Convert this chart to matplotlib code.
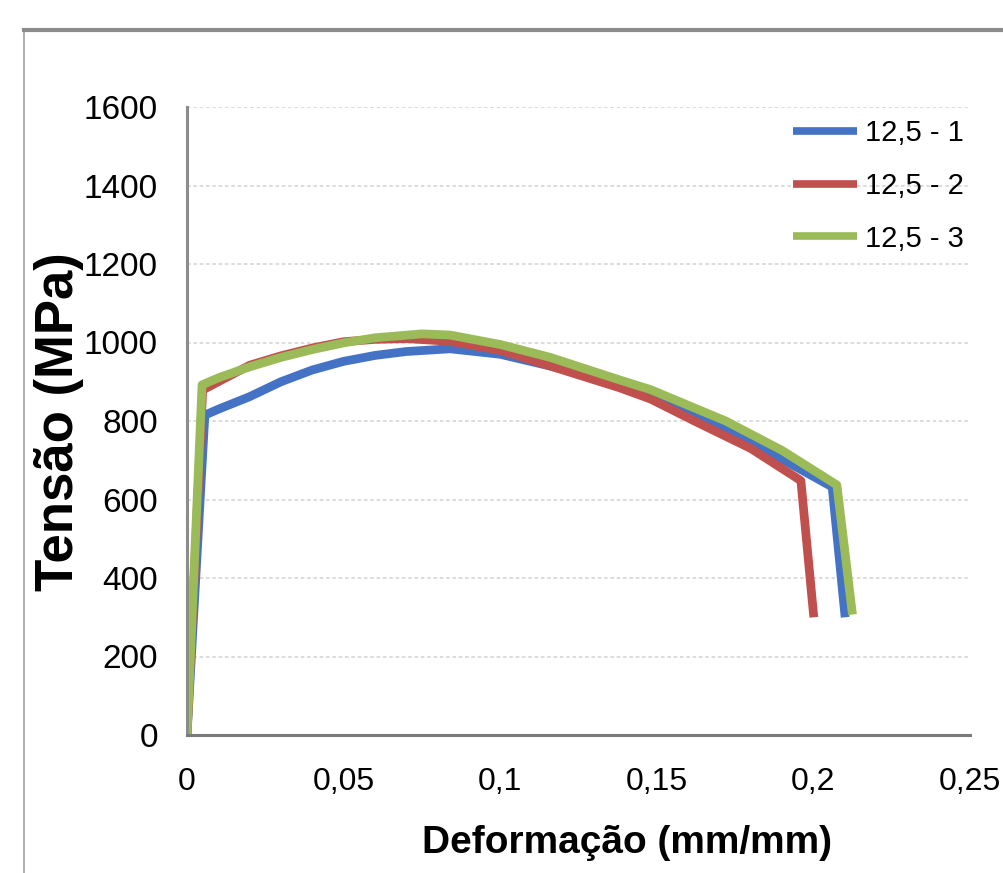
import matplotlib
matplotlib.use("Agg")
import matplotlib.pyplot as plt
from matplotlib.lines import Line2D

# strain (mm/mm) and stress (MPa)
x_1 = [0, 0.0057, 0.01, 0.02, 0.03, 0.04, 0.05, 0.06, 0.07, 0.084, 0.1, 0.116, 0.13, 0.148, 0.166, 0.185, 0.206, 0.210]
y_1 = [0, 815, 830, 862, 900, 930, 952, 967, 977, 984, 970, 940, 912, 871, 805, 725, 632, 311]

x_2 = [0, 0.005, 0.01, 0.02, 0.03, 0.04, 0.05, 0.06, 0.07, 0.084, 0.1, 0.116, 0.138, 0.148, 0.162, 0.18, 0.196, 0.200]
y_2 = [0, 879, 900, 942, 966, 986, 1002, 1008, 1010, 1003, 980, 940, 885, 856, 800, 730, 648, 311]

x_3 = [0, 0.0048, 0.01, 0.02, 0.03, 0.04, 0.05, 0.06, 0.075, 0.084, 0.1, 0.116, 0.138, 0.148, 0.172, 0.19, 0.2075, 0.2123]
y_3 = [0, 892, 910, 938, 962, 982, 999, 1012, 1022, 1019, 995, 962, 905, 880, 800, 725, 637, 318]

series_names = ["12,5 - 1", "12,5 - 2", "12,5 - 3"]
series_colors = ["#4472C4", "#C0504D", "#9BBB59"]

x_ticks = [0, 0.05, 0.1, 0.15, 0.2, 0.25]
x_tick_labels = ["0", "0,05", "0,1", "0,15", "0,2", "0,25"]
y_ticks = [0, 200, 400, 600, 800, 1000, 1200, 1400, 1600]

font = ["Liberation Sans", "DejaVu Sans"]

fig = plt.figure(figsize=(10.04, 8.73), dpi=100)
ax = fig.add_axes([187 / 1004, 1 - 735 / 873, 783 / 1004, 628 / 873])

for xs, ys, name, col in zip([x_1, x_2, x_3], [y_1, y_2, y_3], series_names, series_colors):
    ax.plot(xs, ys, color=col, linewidth=6.3, label=name, solid_joinstyle="round")

ax.set_xlim(0, 0.25)
ax.set_ylim(0, 1600)
ax.set_xticks(x_ticks)
ax.set_xticklabels(x_tick_labels)
ax.set_yticks(y_ticks)
ax.set_yticklabels([str(v) for v in y_ticks])
ax.tick_params(axis="x", length=0, labelsize=23, pad=23)
ax.tick_params(axis="y", length=0, labelsize=24, pad=21)
for lab in ax.get_xticklabels() + ax.get_yticklabels():
    lab.set_family(font)

# dashed horizontal grid
ax.set_axisbelow(True)
ax.yaxis.grid(True, color="#d9d9d9", linewidth=1.3, linestyle=(0, (2, 1.5)))

for side in ["top", "right"]:
    ax.spines[side].set_visible(False)
ax.spines["left"].set_color("#8c8c8c")
ax.spines["left"].set_linewidth(2.2)
ax.spines["bottom"].set_color("#7a7a7a")
ax.spines["bottom"].set_linewidth(2.2)

ax.set_ylabel("Tensão (MPa)", fontsize=38, fontweight="bold", family=font, va="center")
ax.yaxis.set_label_coords((59 - 187) / 783, (735 - 422) / 628)
ax.set_xlabel("Deformação (mm/mm)", fontsize=28, fontweight="bold", family=font, va="center")
ax.xaxis.set_label_coords((627 - 187) / 783, (735 - 843) / 628)

leg = ax.legend(loc="upper left", bbox_to_anchor=((793 - 187) / 783, (735 - 119) / 628),
                frameon=False, borderaxespad=0, borderpad=0, handlelength=2.2,
                handletextpad=0.28, labelspacing=0.85, prop={"family": font, "size": 21})
for h in leg.get_lines():
    h.set_linewidth(5.5)
    h.set_solid_capstyle("butt")

# outer chart border (top and left visible)
fig.add_artist(Line2D([24 / 1004, 24 / 1004], [0, 1 - 30 / 873], transform=fig.transFigure,
                      color="#a0a0a0", linewidth=1.2))
fig.add_artist(Line2D([24 / 1004, 1], [1 - 30 / 873, 1 - 30 / 873], transform=fig.transFigure,
                      color="#8c8c8c", linewidth=3))

fig.savefig("out.png", dpi=100)
